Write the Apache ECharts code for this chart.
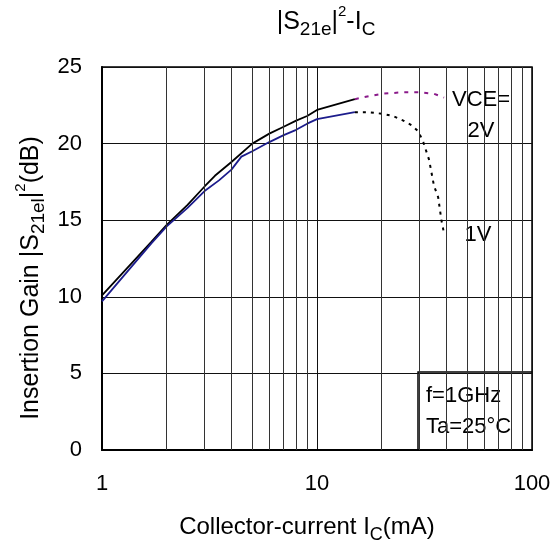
<!DOCTYPE html>
<html>
<head>
<meta charset="utf-8">
<script src="https://cdn.jsdelivr.net/npm/echarts@6/dist/echarts.min.js"></script>
<style>
  html, body { margin: 0; padding: 0; background: #fff; }
  #chart { width: 558px; height: 554px; }
</style>
</head>
<body>
<div id="chart"></div>
<script>
// Ic (mA) and insertion gain (dB)
const ic2V = [1, 1.7, 2, 2.5, 3, 3.35, 4, 5, 6, 7, 8, 9, 10, 15];
const gain2V = [10.1, 13.6, 14.7, 16.0, 17.2, 17.9, 18.8, 20.0, 20.65, 21.1, 21.5, 21.8, 22.2, 22.9];
const ic1V = [1, 1.7, 2, 2.5, 3, 3.5, 4, 4.45, 5, 6, 7, 8, 9, 10, 15];
const gain1V = [9.7, 13.5, 14.6, 15.8, 16.9, 17.6, 18.3, 19.15, 19.5, 20.1, 20.55, 20.9, 21.3, 21.6, 22.05];

// dotted extensions
const ic2VExt = [15, 17.5, 20, 25, 30, 35, 39];
const gain2VExt = [22.9, 23.1, 23.25, 23.35, 23.35, 23.25, 23.0];
const ic1VExt = [15, 17.4, 20, 22.6, 25.2, 27.5, 29.6, 31.2, 33.2, 35, 36.6, 37.9, 38.9];
const gain1VExt = [22.05, 22.05, 21.95, 21.8, 21.5, 21.2, 20.8, 20.1, 18.95, 17.25, 16.5, 15.0, 14.2];

// minor log gridlines
const minorTicks = [2, 3, 4, 5, 6, 7, 8, 9, 20, 30, 40, 50, 60, 70, 80, 90];
const yTicks = [0, 5, 10, 15, 20, 25];

const zip = (xs, ys) => xs.map((x, i) => [x, ys[i]]);
const FONT = 'Liberation Sans, Arial, sans-serif';

const chart = echarts.init(document.getElementById('chart'));

const makeRich = (size) => ({
    b: {fontSize: size, fontFamily: FONT, color: '#000', lineHeight: size + 10},
    sub: {fontSize: Math.round(size * 0.75), fontFamily: FONT, color: '#000', verticalAlign: 'bottom', lineHeight: Math.round(size * 0.75)},
    sup: {fontSize: Math.round(size * 0.6), fontFamily: FONT, color: '#000', verticalAlign: 'top', lineHeight: Math.round(size * 0.6)}
});

chart.setOption({
    animation: false,
    grid: {
        left: 102, right: 26, top: 67, bottom: 104,
        show: true, borderColor: '#000', borderWidth: 1.5
    },
    xAxis: {
        type: 'log', logBase: 10, min: 1, max: 100,
        axisLine: {show: true, lineStyle: {color: '#000', width: 2}},
        axisTick: {show: false},
        splitLine: {show: true, lineStyle: {color: '#111', width: 1}},
        axisLabel: {fontSize: 22, fontFamily: FONT, color: '#000', margin: 23}
    },
    yAxis: {
        type: 'value', min: yTicks[0], max: yTicks[yTicks.length - 1], interval: 5,
        axisLine: {show: true, lineStyle: {color: '#000', width: 2}},
        axisTick: {show: false},
        splitLine: {show: true, lineStyle: {color: '#111', width: 1}},
        axisLabel: {fontSize: 22, fontFamily: FONT, color: '#000', margin: 20}
    },
    series: [
        {
            type: 'line', data: [], z: 1, silent: true,
            markLine: {
                silent: true, symbol: ['none', 'none'], label: {show: false},
                lineStyle: {color: '#333', width: 1, type: 'solid'},
                data: minorTicks.map(v => ({xAxis: v}))
            }
        },
        {
            name: '2V', type: 'line', data: zip(ic2V, gain2V), showSymbol: false,
            lineStyle: {color: '#000', width: 1.8}
        },
        {
            name: '1V', type: 'line', data: zip(ic1V, gain1V), showSymbol: false,
            lineStyle: {color: '#1c1c8c', width: 1.8}
        },
        {
            name: '2V ext', type: 'line', data: zip(ic2VExt, gain2VExt), showSymbol: false,
            lineStyle: {color: '#8a1a8a', width: 2, type: [4, 6]}
        },
        {
            name: '1V ext', type: 'line', data: zip(ic1VExt, gain1VExt), showSymbol: false,
            lineStyle: {color: '#000', width: 2, type: [3, 5]}
        }
    ],
    graphic: [
        {
            type: 'text', x: 326, y: 22,
            style: {
                text: '{b||S}{sub|21e}{b||}{sup|2}{b|-I}{sub|C}',
                rich: makeRich(25), align: 'center', verticalAlign: 'middle'
            }
        },
        {
            type: 'text', x: 307, y: 527,
            style: {
                text: '{b|Collector-current I}{sub|C}{b|(mA)}',
                rich: makeRich(24), align: 'center', verticalAlign: 'middle'
            }
        },
        {
            type: 'text', x: 31, y: 278, rotation: Math.PI / 2,
            style: {
                text: '{b|Insertion Gain |S}{sub|21el}{b||}{sup|2}{b|(dB)}',
                rich: makeRich(25), align: 'center', verticalAlign: 'middle'
            }
        },
        // VCE label
        {type: 'rect', shape: {x: 447, y: 80, width: 69, height: 76}, style: {fill: '#fff'}},
        {
            type: 'text', x: 481, y: 115,
            style: {text: 'VCE=\n2V', fontSize: 22, fontFamily: FONT, fill: '#000', align: 'center', verticalAlign: 'middle', lineHeight: 31}
        },
        // 1V label
        {type: 'rect', shape: {x: 459, y: 215, width: 36, height: 45}, style: {fill: '#fff'}},
        {
            type: 'text', x: 478, y: 235,
            style: {text: '1V', fontSize: 22, fontFamily: FONT, fill: '#000', align: 'center', verticalAlign: 'middle'}
        },
        // condition box
        {type: 'rect', shape: {x: 418, y: 372, width: 114, height: 78}, style: {fill: '#fff', stroke: '#000', lineWidth: 1.5}},
        {
            type: 'text', x: 426, y: 411,
            style: {text: 'f=1GHz\nTa=25°C', fontSize: 22, fontFamily: FONT, fill: '#000', align: 'left', verticalAlign: 'middle', lineHeight: 31}
        }
    ]
});
</script>
</body>
</html>
